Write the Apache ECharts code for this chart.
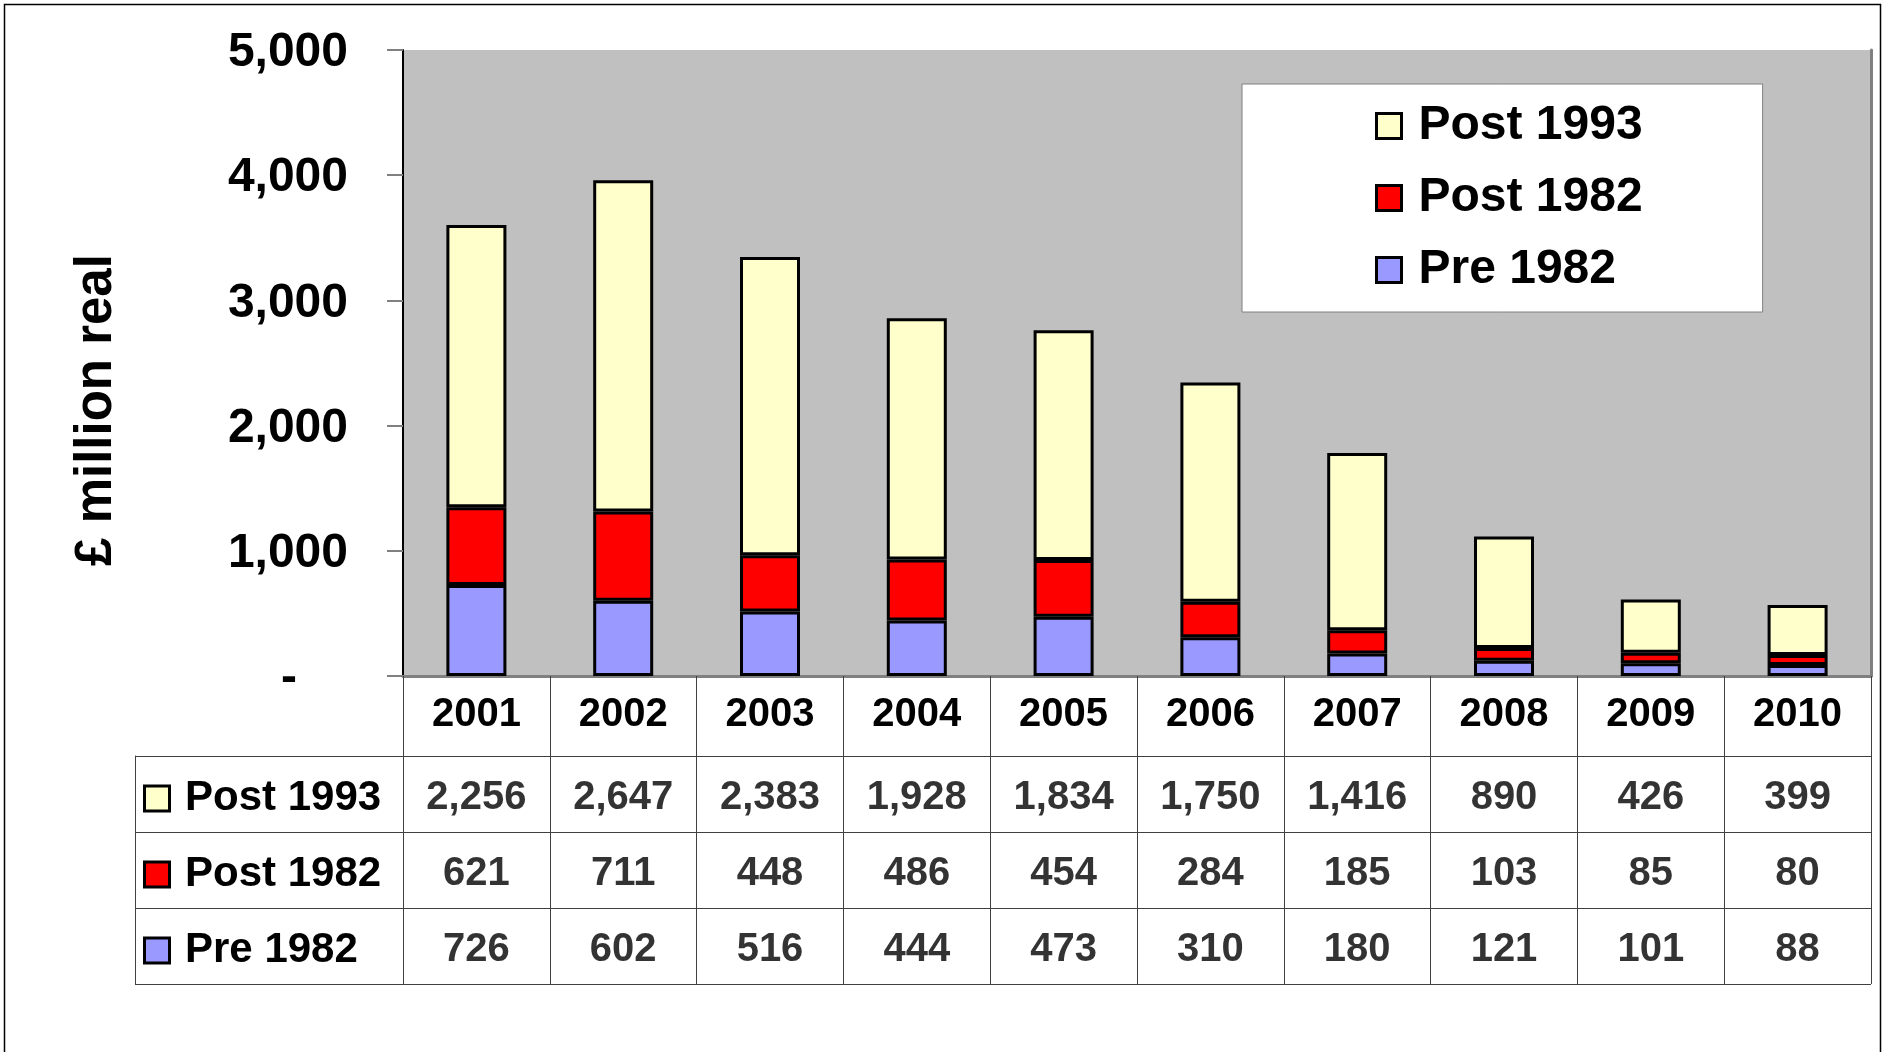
<!DOCTYPE html>
<html><head><meta charset="utf-8">
<script src="https://cdn.jsdelivr.net/npm/echarts@6/dist/echarts.min.js"></script>
<style>html,body{margin:0;padding:0;background:#fff}#c{width:1885px;height:1052px}</style>
</head><body><div id="c"></div>
<script>
// ---- data ----
const years = ['2001','2002','2003','2004','2005','2006','2007','2008','2009','2010'];
const post1993 = [2256, 2647, 2383, 1928, 1834, 1750, 1416, 890, 426, 399];
const post1982 = [621, 711, 448, 486, 454, 284, 185, 103, 85, 80];
const pre1982  = [726, 602, 516, 444, 473, 310, 180, 121, 101, 88];
const seriesNames = ['Post 1993', 'Post 1982', 'Pre 1982'];
const yAxisTitle = '£ million real';

// ---- styles ----
const FONT = '"Liberation Sans", Arial, sans-serif';
const colors = {'Post 1993': '#FFFFCC', 'Post 1982': '#FF0000', 'Pre 1982': '#9999FF'};
const rowValues = [post1993, post1982, pre1982];
const fmt = v => Number(v).toLocaleString('en-US');

const chart = echarts.init(document.getElementById('c'), null, {renderer: 'canvas'});

function barSeries(name, data) {
  return {
    name: name, type: 'bar', stack: 'total', data: data,
    xAxisIndex: 0, yAxisIndex: 0, barWidth: 60,
    itemStyle: {color: colors[name], borderColor: '#000', borderWidth: 3},
    emphasis: {disabled: true}, silent: true, animation: false
  };
}

const cellSeries = seriesNames.map((n, r) => ({
  name: 'cell-' + n, type: 'scatter', xAxisIndex: 2, yAxisIndex: 2,
  symbolSize: 1, itemStyle: {color: 'rgba(0,0,0,0)'}, silent: true, animation: false,
  label: {show: true, position: 'inside', offset: [0, 4], formatter: p => fmt(p.value[2]),
    fontSize: 40, fontWeight: 'bold', fontFamily: FONT, color: '#000'},
  data: rowValues[r].map((v, i) => [i, r, v])
}));

const rowRich = {
  t: {fontSize: 42, fontWeight: 'bold', fontFamily: FONT, color: '#000', padding: [0, 0, 0, 17]}
};
seriesNames.forEach((n, i) => {
  rowRich['b' + i] = {width: 22, height: 22, backgroundColor: colors[n], borderColor: '#000', borderWidth: 3};
});

const option = {
  backgroundColor: '#fff',
  animation: false,
  textStyle: {fontFamily: FONT},
  grid: [
    {left: 403, right: 14, top: 50, height: 626, show: true, backgroundColor: '#C0C0C0',
     borderWidth: 0, outerBoundsMode: 'none', containLabel: false},
    {left: 135, right: 14, top: 756, bottom: 68, outerBoundsMode: 'none', containLabel: false},
    {left: 403, right: 14, top: 756, bottom: 68, outerBoundsMode: 'none', containLabel: false}
  ],
  xAxis: [
    {gridIndex: 0, type: 'category', data: years, position: 'bottom',
     axisLine: {show: true, lineStyle: {color: '#404040', width: 1}},
     axisTick: {show: true, interval: 0, length: 308, alignWithLabel: false, lineStyle: {color: '#404040', width: 1}},
     axisLabel: {show: true, interval: 0, margin: 19, fontSize: 40, lineHeight: 40, fontWeight: 'bold', fontFamily: FONT, color: '#000'},
     splitLine: {show: false}},
    {gridIndex: 1, type: 'value', min: 0, max: 1, show: false},
    {gridIndex: 2, type: 'category', data: years, show: false},
    {gridIndex: 0, type: 'category', data: years, position: 'top',
     axisLine: {show: true, lineStyle: {color: '#808080', width: 3}},
     axisTick: {show: false}, axisLabel: {show: false}, splitLine: {show: false}}
  ],
  yAxis: [
    {gridIndex: 0, type: 'value', min: 0, max: 5000, interval: 1000, position: 'left',
     axisLine: {show: true, lineStyle: {color: '#000', width: 2}},
     axisTick: {show: true, length: 16, lineStyle: {color: '#808080', width: 2}},
     splitLine: {show: false},
     axisLabel: {margin: 55, fontSize: 48, fontWeight: 'bold', fontFamily: FONT, color: '#000',
       padding: [6, 0, 0, 0],
       formatter: v => v === 0 ? '{z|-}' : fmt(v),
       rich: {z: {fontSize: 48, fontWeight: 'bold', fontFamily: FONT, color: '#000', padding: [0, 51, 0, 0]}}}},
    {gridIndex: 1, type: 'category', data: seriesNames, inverse: true,
     axisLine: {show: true, lineStyle: {color: '#404040', width: 1}},
     axisTick: {show: false},
     splitLine: {show: true, showMinLine: true, showMaxLine: true, lineStyle: {color: '#404040', width: 1}},
     axisLabel: {show: true, inside: true, margin: 11, interval: 0, padding: [9, 0, 0, 0],
       formatter: (v, i) => '{b' + i + '|}{t|' + v + '}', rich: rowRich}},
    {gridIndex: 2, type: 'category', data: seriesNames, inverse: true, show: false},
    {gridIndex: 0, type: 'value', min: 0, max: 5000, interval: 1000, position: 'right',
     axisLine: {show: true, lineStyle: {color: '#808080', width: 3}},
     axisTick: {show: false}, axisLabel: {show: false}, splitLine: {show: false}}
  ],
  legend: {
    orient: 'vertical', left: 1242, top: 84, data: seriesNames, icon: 'rect',
    itemWidth: 25, itemHeight: 25, itemGap: 24, selectedMode: false,
    backgroundColor: '#fff', borderColor: '#808080', borderWidth: 1,
    padding: [18, 120, 18, 133],
    itemStyle: {borderColor: '#000', borderWidth: 3},
    textStyle: {fontSize: 48, lineHeight: 48, fontWeight: 'bold', fontFamily: FONT, color: '#000', padding: [0, 0, 0, 12]}
  },
  graphic: [
    {type: 'rect', silent: true, z: 100, shape: {x: 4.5, y: 4.5, width: 1876, height: 1100},
     style: {fill: 'none', stroke: '#000', lineWidth: 1.5}},
    {type: 'text', silent: true, x: 97, y: 410, rotation: Math.PI / 2,
     style: {text: yAxisTitle, fontSize: 51, fontWeight: 'bold', fontFamily: FONT, fill: '#000',
       align: 'center', verticalAlign: 'middle'}}
  ],
  series: [
    barSeries('Pre 1982', pre1982),
    barSeries('Post 1982', post1982),
    barSeries('Post 1993', post1993)
  ].concat(cellSeries)
};
chart.setOption(option);
</script>
</body></html>
